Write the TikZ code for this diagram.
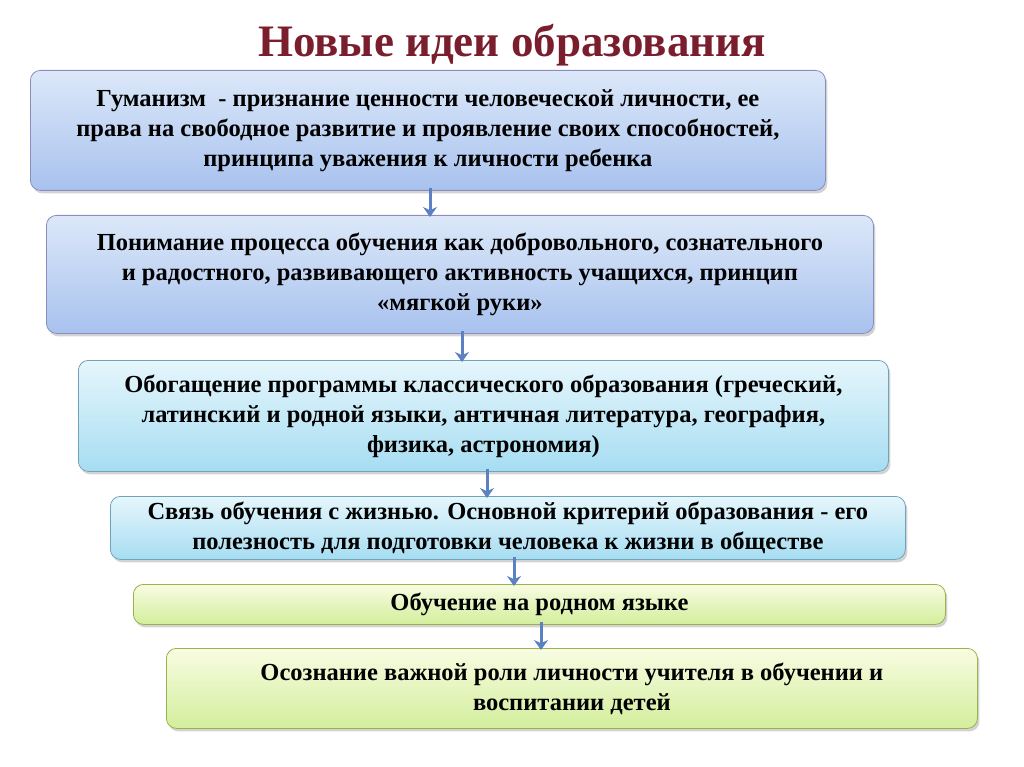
\documentclass[tikz,border=0pt]{standalone}
\usepackage{fontspec}
\setmainfont{Liberation Serif}
\usetikzlibrary{shadows,arrows.meta}
\definecolor{ttl}{HTML}{7A1E2E}
\definecolor{arr}{HTML}{5B80C4}
\definecolor{cB1}{HTML}{DCE8F9}
\definecolor{cB2}{HTML}{A8C2EE}
\definecolor{cC1}{HTML}{E6F6FC}
\definecolor{cC2}{HTML}{A6DDF2}
\definecolor{cG1}{HTML}{F8FCE2}
\definecolor{cG2}{HTML}{D3EE9C}
\tikzset{
 box/.style={draw=#1, rounded corners=10pt, line width=0.8pt, align=center, font=\bfseries\fontsize{24.5}{30}\selectfont, inner sep=0pt, anchor=north west, drop shadow={opacity=0.35,shadow xshift=2pt,shadow yshift=-3pt}},
 bluebox/.style={box=white!60!blue!50!gray, top color=cB1, bottom color=cB2},
 cyanbox/.style={box=cyan!40!gray, top color=cC1, bottom color=cC2},
 greenbox/.style={box=lime!40!gray, top color=cG1, bottom color=cG2},
 conn/.style={draw=arr, line width=3pt, -{Stealth[length=10pt,width=14pt]}}
}
\begin{document}
\begin{tikzpicture}[x=1pt,y=-1pt]
\useasboundingbox (0,0) rectangle (1024,767);
\node[text=ttl, font=\bfseries\fontsize{45}{50}\selectfont] (title) at (512,45) {Новые идеи образования};
\node[bluebox, minimum width=795pt, minimum height=120pt] (b1) at (30,70) {Гуманизм \ - признание ценности человеческой личности, ее\\права на свободное развитие и проявление своих способностей,\\принципа уважения к личности ребенка};
\node[bluebox, minimum width=827pt, minimum height=118pt] (b2) at (46,215) {Понимание процесса обучения как добровольного, сознательного\\и радостного, развивающего активность учащихся, принцип\\«мягкой руки»};
\node[cyanbox, minimum width=810pt, minimum height=111pt] (b3) at (78,360) {Обогащение программы классического образования (греческий,\\латинский и родной языки, античная литература, география,\\физика, астрономия)};
\node[cyanbox, minimum width=795pt, minimum height=63pt] (b4) at (110,496) {Связь обучения с жизнью. Основной критерий образования - его\\полезность для подготовки человека к жизни в обществе};
\node[greenbox, minimum width=812pt, minimum height=40pt] (b5) at (133,584) {Обучение на родном языке};
\node[greenbox, minimum width=811pt, minimum height=80pt] (b6) at (166,648) {Осознание важной роли личности учителя в обучении и\\воспитании детей};
\coordinate (x1) at (430,0);
\coordinate (x2) at (462,0);
\coordinate (x3) at (487,0);
\coordinate (x4) at (514,0);
\coordinate (x5) at (541,0);
\draw[conn] ([yshift=3pt]b1.south -| x1) -- ([yshift=-2pt]b2.north -| x1);
\draw[conn] ([yshift=3pt]b2.south -| x2) -- ([yshift=-2pt]b3.north -| x2);
\draw[conn] ([yshift=3pt]b3.south -| x3) -- ([yshift=-2pt]b4.north -| x3);
\draw[conn] ([yshift=3pt]b4.south -| x4) -- ([yshift=-2pt]b5.north -| x4);
\draw[conn] ([yshift=3pt]b5.south -| x5) -- ([yshift=-2pt]b6.north -| x5);
\end{tikzpicture}
\end{document}
